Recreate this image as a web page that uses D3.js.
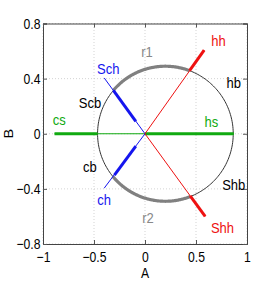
<!DOCTYPE html>
<html><head><meta charset="utf-8">
<script src="https://cdn.jsdelivr.net/npm/d3@7"></script>
<style>body{margin:0;background:#fff}</style>
</head><body>
<script>
// ---- data ----
const xTicks = [-1, -0.5, 0, 0.5, 1];
const yTicks = [-0.8, -0.4, 0, 0.4, 0.8];
const xDomain = [-1, 1];
const yDomain = [-0.8, 0.8];
// circle (ellipse in data units): center A, radius in A, radius in B
const circleCenter = [0.2, 0];
const circleRadius = [0.665, 0.49];
// radial lines from origin: end point, thick segment
const blueUpper = {end: [-0.40, 0.405], thickFrom: [-0.31, 0.315], thickTo: [-0.09, 0.09]};
const blueLower = {end: [-0.40, -0.395], thickFrom: [-0.30, -0.30], thickTo: [-0.09, -0.09]};
const redUpper = {end: [0.58, 0.606], thickFrom: [0.437, 0.458], thickTo: [0.58, 0.606]};
const redLower = {end: [0.59, -0.60], thickFrom: [0.443, -0.45], thickTo: [0.59, -0.60]};
const greenLine = {start: -0.887, circleLeft: -0.466, mid: 0, end: 0.87};
// gray arcs between intersection points
const arcUpper = [[-0.31, 0.315], [0.437, 0.458]];
const arcLower = [[-0.30, -0.30], [0.443, -0.45]];
// labels: text, A, B, colour
const labelText = ["Sch","hh","r1","hb","Scb","cs","hs","cb","ch","r2","Shb","Shh"];
const labelA = [-0.36, 0.72, 0.02, 0.87, -0.54, -0.84, 0.65, -0.54, -0.40, 0.03, 0.87, 0.76];
const labelB = [0.43, 0.635, 0.56, 0.33, 0.19, 0.06, 0.05, -0.28, -0.52, -0.65, -0.41, -0.72];
const labelColor = ["#1515ee","#ee1111","#888888","#000","#000","#11aa11","#11aa11","#000","#1515ee","#888888","#000","#ee1111"];

const W = 273, H = 284;
const m = {l: 43, t: 23.5, r: 26, b: 40};
const svg = d3.select("body").append("svg").attr("width", W).attr("height", H);
const x = d3.scaleLinear().domain(xDomain).range([m.l, W - m.r]);
const y = d3.scaleLinear().domain(yDomain).range([H - m.b, m.t]);
const font = "'Liberation Sans',Arial,sans-serif";
const SX = 0.84;

// grid
const g = svg.append("g");
g.selectAll(".gx").data(xTicks).enter().append("line")
  .attr("x1", d => x(d)).attr("x2", d => x(d)).attr("y1", y(yDomain[0])).attr("y2", y(yDomain[1]))
  .attr("stroke", "#c8c8c8").attr("stroke-width", 0.8).attr("stroke-dasharray", "1,2");
g.selectAll(".gy").data(yTicks).enter().append("line")
  .attr("y1", d => y(d)).attr("y2", d => y(d)).attr("x1", x(xDomain[0])).attr("x2", x(xDomain[1]))
  .attr("stroke", "#c8c8c8").attr("stroke-width", 0.8).attr("stroke-dasharray", "1,2");

// axes (inward ticks)
const fmt = d => d3.format("")(d).replace("-", "\u2212");
const axB = d3.axisBottom(x).tickValues(xTicks).tickSize(-4).tickPadding(8).tickFormat(fmt);
const axL = d3.axisLeft(y).tickValues(yTicks).tickSize(-4).tickPadding(3).tickFormat(fmt);
const axT = d3.axisTop(x).tickValues(xTicks).tickSize(-4).tickFormat("");
const axR = d3.axisRight(y).tickValues(yTicks).tickSize(-4).tickFormat("");
function style(sel){
  sel.selectAll("path").attr("stroke", "#555");
  sel.selectAll("line").attr("stroke", "#555");
  sel.selectAll("text").attr("font-family", font).attr("font-size", 14.5).attr("fill", "#000")
    .attr("transform", `scale(${SX},1)`);
}
svg.append("g").attr("transform", `translate(0,${y(yDomain[0])})`).call(axB).call(style);
svg.append("g").attr("transform", `translate(${x(xDomain[0])},0)`).call(axL).call(style);
svg.append("g").attr("transform", `translate(0,${y(yDomain[1])})`).call(axT).call(style);
svg.append("g").attr("transform", `translate(${x(xDomain[1])},0)`).call(axR).call(style);
svg.selectAll(".domain").attr("stroke", "#444");

// axis labels
svg.append("text").attr("transform", `translate(${x(0)},278) scale(${SX},1)`).attr("text-anchor", "middle")
  .attr("font-family", font).attr("font-size", 14.5).text("A");
svg.append("text").attr("transform", `translate(13,${y(0)}) rotate(-90) scale(1,${SX})`).attr("text-anchor", "middle")
  .attr("font-family", font).attr("font-size", 14.5).text("B");

// ellipse helpers
const [cx, cy] = circleCenter, [rx, ry] = circleRadius;
const tOf = p => Math.atan2((p[1] - cy) / ry, (p[0] - cx) / rx);
const ell = (t0, t1, n = 120) => d3.range(n + 1).map(i => {
  const t = t0 + (t1 - t0) * i / n;
  return [cx + rx * Math.cos(t), cy + ry * Math.sin(t)];
});
const lineGen = d3.line().x(d => x(d[0])).y(d => y(d[1]));

// full thin circle
svg.append("path").attr("d", lineGen(ell(0, 2 * Math.PI, 240)))
  .attr("fill", "none").attr("stroke", "#333").attr("stroke-width", 1);
// thick gray arcs
[arcUpper, arcLower].forEach(a => {
  svg.append("path").attr("d", lineGen(ell(tOf(a[0]), tOf(a[1]))))
    .attr("fill", "none").attr("stroke", "#808080").attr("stroke-width", 3.2);
});

// green line
svg.append("path").attr("d", lineGen([[greenLine.start, 0], [greenLine.end, 0]]))
  .attr("stroke", "#11aa11").attr("stroke-width", 1).attr("fill", "none");
svg.append("path").attr("d", lineGen([[greenLine.start, 0], [greenLine.circleLeft, 0]]))
  .attr("stroke", "#11aa11").attr("stroke-width", 3).attr("fill", "none");
svg.append("path").attr("d", lineGen([[greenLine.mid, 0], [greenLine.end, 0]]))
  .attr("stroke", "#11aa11").attr("stroke-width", 3).attr("fill", "none");

// radial lines
[[blueUpper, "#1515ee"], [blueLower, "#1515ee"], [redUpper, "#ee1111"], [redLower, "#ee1111"]].forEach(([L, c]) => {
  svg.append("path").attr("d", lineGen([[0, 0], L.end]))
    .attr("stroke", c).attr("stroke-width", 1).attr("fill", "none");
  svg.append("path").attr("d", lineGen([L.thickFrom, L.thickTo]))
    .attr("stroke", c).attr("stroke-width", 3).attr("fill", "none");
});

// labels
svg.selectAll(".lab").data(labelText).enter().append("text")
  .attr("transform", (d, i) => `translate(${x(labelA[i])},${y(labelB[i])}) scale(${SX},1)`)
  .attr("text-anchor", "middle").attr("font-family", font).attr("font-size", 15.5)
  .attr("fill", (d, i) => labelColor[i]).text(d => d);
</script>
</body></html>
